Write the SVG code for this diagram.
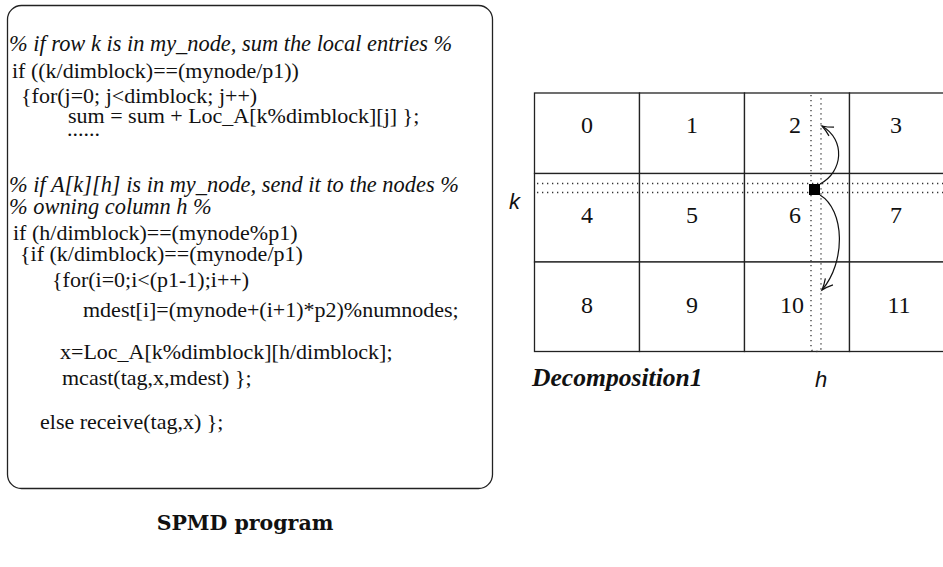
<svg xmlns="http://www.w3.org/2000/svg" width="943" height="567" viewBox="0 0 943 567">
  <style>
    .code { font-family: "Liberation Serif", "Times New Roman", serif; font-size: 22px; fill: #111; }
    .cmt { font-style: italic; font-size: 22.4px; }
    .frame { fill: none; stroke: #222; stroke-width: 1.3; }
    .cell rect { fill: #fff; stroke: #222; stroke-width: 1.3; }
    .cell text { font-family: "Liberation Serif", "Times New Roman", serif; font-size: 24px; fill: #111; text-anchor: middle; }
    .dots { fill: none; stroke: #333; stroke-width: 1.3; stroke-dasharray: 1.3 3.7; }
    .axis { font-family: "Liberation Sans", Arial, sans-serif; font-style: italic; font-size: 22px; fill: #111; }
    .conn { fill: none; stroke: #111; stroke-width: 1.2; }
  </style>
  <defs>
    <marker id="head" markerUnits="userSpaceOnUse" markerWidth="16" markerHeight="16" refX="0" refY="0" viewBox="-13 -8 15 16" orient="auto">
      <path d="M-11,-5 Q-5,-1.5 0,0 Q-5,1.5 -11,5" fill="none" stroke="#111" stroke-width="1.2"/>
    </marker>
  </defs>

  <rect width="943" height="567" fill="#fff"/>

  <!-- SPMD program listing -->
  <g id="spmd-program">
    <rect class="frame" x="7.5" y="5.5" width="485" height="483" rx="14" ry="14"/>
    <text class="code cmt" x="9" y="51">% if row k is in my_node, sum the local entries %</text>
    <text class="code" x="12" y="78">if ((k/dimblock)==(mynode/p1))</text>
    <text class="code" x="21" y="103">{for(j=0; j&lt;dimblock; j++)</text>
    <text class="code" x="68" y="123">sum = sum + Loc_A[k%dimblock][j] };</text>
    <text class="code" x="67" y="136">......</text>
    <text class="code cmt" x="9" y="192">% if A[k][h] is in my_node, send it to the nodes %</text>
    <text class="code cmt" x="9" y="214">% owning column h %</text>
    <text class="code" x="13" y="240">if (h/dimblock)==(mynode%p1)</text>
    <text class="code" x="20" y="261">{if (k/dimblock)==(mynode/p1)</text>
    <text class="code" x="52" y="287">{for(i=0;i&lt;(p1-1);i++)</text>
    <text class="code" x="83" y="317">mdest[i]=(mynode+(i+1)*p2)%numnodes;</text>
    <text class="code" x="60" y="359">x=Loc_A[k%dimblock][h/dimblock];</text>
    <text class="code" x="62" y="385">mcast(tag,x,mdest) };</text>
    <text class="code" x="40" y="429">else receive(tag,x) };</text>
  </g>
  <g id="spmd-caption">
    <text x="245" y="530" text-anchor="middle" font-family="'DejaVu Serif', 'Liberation Serif', serif" font-weight="bold" font-size="20.5" fill="#111">SPMD program</text>
  </g>

  <!-- 3 x 4 block decomposition; the last column runs past the right edge -->
  <g id="cell-0" class="cell"><rect x="534.5" y="93" width="105" height="80.5"/><text x="587" y="133">0</text></g>
  <g id="cell-1" class="cell"><rect x="639.5" y="93" width="105" height="80.5"/><text x="692" y="133">1</text></g>
  <g id="cell-2" class="cell"><rect x="744.5" y="93" width="105" height="80.5"/><text x="795" y="133">2</text></g>
  <g id="cell-3" class="cell"><rect x="849.5" y="93" width="105" height="80.5"/><text x="896" y="133">3</text></g>
  <g id="cell-4" class="cell"><rect x="534.5" y="173.5" width="105" height="88.5"/><text x="587" y="223">4</text></g>
  <g id="cell-5" class="cell"><rect x="639.5" y="173.5" width="105" height="88.5"/><text x="692" y="223">5</text></g>
  <g id="cell-6" class="cell"><rect x="744.5" y="173.5" width="105" height="88.5"/><text x="795" y="223">6</text></g>
  <g id="cell-7" class="cell"><rect x="849.5" y="173.5" width="105" height="88.5"/><text x="896" y="223">7</text></g>
  <g id="cell-8" class="cell"><rect x="534.5" y="262" width="105" height="89.5"/><text x="587" y="313">8</text></g>
  <g id="cell-9" class="cell"><rect x="639.5" y="262" width="105" height="89.5"/><text x="692" y="313">9</text></g>
  <g id="cell-10" class="cell"><rect x="744.5" y="262" width="105" height="89.5"/><text x="792" y="313">10</text></g>
  <g id="cell-11" class="cell"><rect x="849.5" y="262" width="105" height="89.5"/><text x="899" y="313">11</text></g>

  <!-- row k and column h bands -->
  <g id="row-k-band">
    <path class="dots" d="M537,183.5 H943 M537,192.5 H943"/>
  </g>
  <g id="col-h-band">
    <path class="dots" d="M811,95 V348 Q811,351.5 816,351.5 Q821,351.5 821,348 V95"/>
  </g>
  <g id="element-a-kh">
    <rect x="809" y="184" width="11" height="11" fill="#000"/>
  </g>

  <g id="labels">
    <text class="axis" x="509" y="209">k</text>
    <text class="axis" x="815" y="387">h</text>
    <text x="532" y="386" font-family="'Liberation Serif', 'Times New Roman', serif" font-weight="bold" font-style="italic" font-size="25.6" fill="#111">Decomposition1</text>
  </g>

  <!-- multicast of A[k][h] along column h -->
  <g id="connectors">
    <path class="conn" d="M820,184 C843,172 846,140 822,126" marker-end="url(#head)"/>
    <path class="conn" d="M820,195 C845,210 846,262 822,290" marker-end="url(#head)"/>
  </g>
</svg>
